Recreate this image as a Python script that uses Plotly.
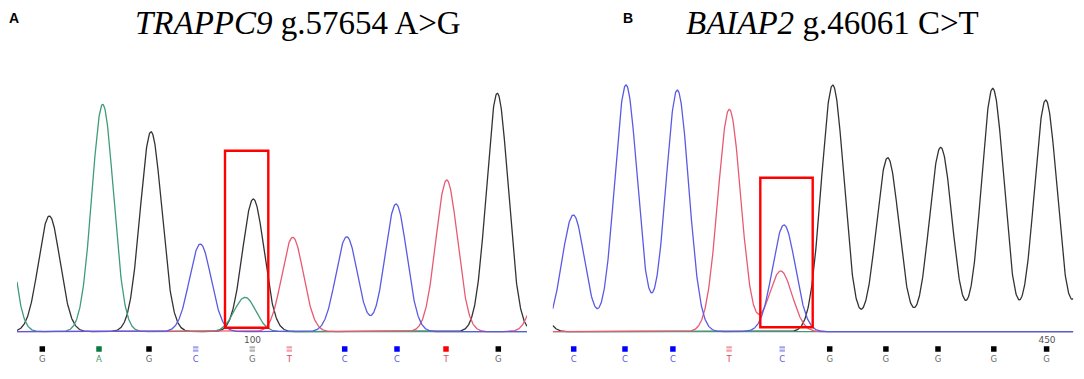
import numpy as np
import plotly.graph_objects as go

# ---------------- DATA ----------------
# Panel A : TRAPPC9 g.57654 A>G   (x in scan units, y = signal height)
A_G_pos = [49.3, 151.0, 253.3, 497.3]
A_G_h   = [115.7, 200.0, 132.7, 238.4]
A_A_pos = [-1.0, 102.7, 245.0]
A_A_h   = [200.0, 227.4, 34.4]
A_C_pos = [200.3, 346.7, 396.0]
A_C_h   = [87.7, 95.0, 127.7]
A_T_pos = [292.7, 446.7, 547.0]
A_T_h   = [94.4, 151.7, 90.0]

# Panel B : BAIAP2 g.46061 C>T
B_G_pos = [525.0, 832.7, 887.7, 940.7, 992.7, 1045.7, 1098.0]
B_G_h   = [120.0, 246.7, 174.0, 184.4, 243.4, 231.7, 220.0]
B_A_pos = []
B_A_h   = []
B_C_pos = [573.3, 626.0, 677.3, 784.0]
B_C_h   = [116.7, 246.7, 241.7, 106.7]
B_T_pos = [729.3, 780.7]
B_T_h   = [222.4, 60.7]

# base calls
A_call_pos   = [42.3, 99.0, 149.0, 195.7, 252.3, 289.3, 344.7, 397.0, 446.0, 498.3]
A_call_base  = ["G", "A", "G", "C", "G", "T", "C", "C", "T", "G"]
A_call_faded = [0, 0, 0, 1, 1, 1, 0, 0, 0, 0]
B_call_pos   = [573.7, 625.0, 672.9, 729.1, 782.2, 829.7, 885.9, 938.0, 993.8, 1046.6]
B_call_base  = ["C", "C", "C", "T", "C", "G", "G", "G", "G", "G"]
B_call_faded = [0, 0, 0, 1, 1, 0, 0, 0, 0, 0]

A_title = "<i>TRAPPC9</i> g.57654 A&gt;G"
B_title = "<i>BAIAP2</i> g.46061 C&gt;T"
A_pos_label = ("100", 252.5)
B_pos_label = ("450", 1047.0)

# ---------------- STYLE ----------------
W, H = 1084, 379
BASE_PX = 331.7           # page pixel row of the baseline
TRACE_COL = {"G": "#333333", "A": "#3f9c78", "C": "#5a5ae4", "T": "#e85a72"}
CALL_COL = {"G": "#000000", "A": "#0a7a45", "C": "#0000ff", "T": "#ff0000"}
FADE_COL = {"G": "#b4b4b4", "C": "#a4a4ee", "T": "#f2a0a8", "A": "#90c8a8"}
TXT_COL = {"G": "#6a6a6a", "A": "#3a9a6a", "C": "#5a5ae0", "T": "#e04858"}

def ydat(py):
    return BASE_PX - py

def xpap(px):
    return px / W

def ypap(py):
    return 1 - py / H

fig = go.Figure()

def curve(xs, pos, h, s):
    y = np.zeros_like(xs)
    for p, hh in zip(pos, h):
        y += hh * np.exp(-(xs - p) ** 2 / (2 * s * s))
    return y

panels = [
    dict(xa="x", ya="y", rng=(17.0, 527.0), sig=10.8,
         peaks={"G": (A_G_pos, A_G_h), "A": (A_A_pos, A_A_h),
                "T": (A_T_pos, A_T_h), "C": (A_C_pos, A_C_h)},
         cpos=A_call_pos, cbase=A_call_base, cfade=A_call_faded, lab=A_pos_label),
    dict(xa="x2", ya="y2", rng=(552.7, 1073.3), sig=11.4,
         peaks={"G": (B_G_pos, B_G_h), "A": (B_A_pos, B_A_h),
                "T": (B_T_pos, B_T_h), "C": (B_C_pos, B_C_h)},
         cpos=B_call_pos, cbase=B_call_base, cfade=B_call_faded, lab=B_pos_label),
]

for pn in panels:
    xs = np.linspace(pn["rng"][0], pn["rng"][1], 1400)
    for base in ["G", "A", "T", "C"]:
        pos, h = pn["peaks"][base]
        fig.add_trace(go.Scatter(x=xs, y=curve(xs, pos, h, pn["sig"]), mode="lines",
                                 line=dict(color=TRACE_COL[base], width=1.3),
                                 xaxis=pn["xa"], yaxis=pn["ya"], hoverinfo="skip",
                                 showlegend=False))
    cols = [FADE_COL[b] if f else CALL_COL[b] for b, f in zip(pn["cbase"], pn["cfade"])]
    fig.add_trace(go.Scatter(x=pn["cpos"], y=[ydat(349)] * len(pn["cpos"]), mode="markers",
                             marker=dict(symbol="square", size=5.5, color=cols, line=dict(width=0)),
                             xaxis=pn["xa"], yaxis=pn["ya"], showlegend=False, hoverinfo="skip"))
    fx = [p for p, f in zip(pn["cpos"], pn["cfade"]) if f]
    if fx:
        fig.add_trace(go.Scatter(x=fx, y=[ydat(349)] * len(fx), mode="markers",
                                 marker=dict(symbol="line-ew", size=5, line=dict(color="white", width=1)),
                                 xaxis=pn["xa"], yaxis=pn["ya"], showlegend=False, hoverinfo="skip"))
    fig.add_trace(go.Scatter(x=pn["cpos"], y=[ydat(359.5)] * len(pn["cpos"]), mode="text",
                             text=pn["cbase"],
                             textfont=dict(family="DejaVu Sans", size=8.5,
                                           color=[TXT_COL[b] for b in pn["cbase"]]),
                             xaxis=pn["xa"], yaxis=pn["ya"], showlegend=False, hoverinfo="skip"))
    fig.add_trace(go.Scatter(x=[pn["lab"][1]], y=[ydat(341)], mode="text", text=[pn["lab"][0]],
                             textfont=dict(family="DejaVu Sans", size=9, color="#555555"),
                             xaxis=pn["xa"], yaxis=pn["ya"], showlegend=False, hoverinfo="skip"))

# red highlight boxes around the variant peaks
fig.add_shape(type="rect", xref="x", yref="y", x0=225.0, x1=268.3, y0=ydat(327.7), y1=ydat(150.7),
              line=dict(color="#ff0000", width=2.4))
fig.add_shape(type="rect", xref="x2", yref="y2", x0=760.3, x1=812.7, y0=ydat(327.3), y1=ydat(177.7),
              line=dict(color="#ff0000", width=2.4))

# titles and panel letters
def ann(text, px, py, size, family, bold=False):
    fig.add_annotation(text=f"<b>{text}</b>" if bold else text, xref="paper", yref="paper",
                       x=xpap(px), y=ypap(py), xanchor="center", yanchor="middle",
                       showarrow=False, font=dict(family=family, size=size, color="#000000"))

ann("A", 13.8, 18.0, 14, "Liberation Sans", bold=True)
ann("B", 627.7, 18.2, 14, "Liberation Sans", bold=True)
ann(A_title, 297.5, 22.5, 33, "Liberation Serif")
ann(B_title, 832.3, 22.5, 33, "Liberation Serif")

yr = [BASE_PX - H, BASE_PX]
ax_common = dict(visible=False, showgrid=False, zeroline=False, fixedrange=True)
fig.update_layout(
    width=W, height=H, margin=dict(l=0, r=0, t=0, b=0),
    paper_bgcolor="white", plot_bgcolor="white", showlegend=False,
    xaxis=dict(domain=[xpap(17.0), xpap(527.0)], range=[17.0, 527.0], **ax_common),
    xaxis2=dict(domain=[xpap(552.7), xpap(1073.3)], range=[552.7, 1073.3], **ax_common),
    yaxis=dict(domain=[0, 1], range=yr, anchor="x", **ax_common),
    yaxis2=dict(domain=[0, 1], range=yr, anchor="x2", **ax_common),
)

fig.write_html("out.html", config={"displayModeBar": False, "staticPlot": True},
               post_script="document.body.style.margin='0px';")
